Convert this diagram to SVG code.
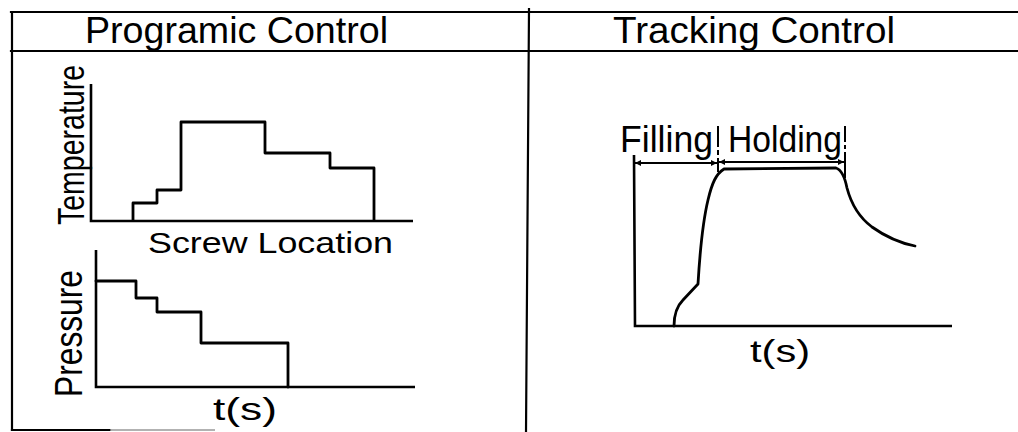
<svg xmlns="http://www.w3.org/2000/svg" width="1018" height="432" viewBox="0 0 1018 432">
  <style>
    .frame { fill: none; stroke: #000; stroke-width: 2.2; stroke-linecap: square; }
    .axis { fill: none; stroke: #000; stroke-width: 2.6; stroke-linejoin: miter; }
    .curve { fill: none; stroke: #000; stroke-width: 2.8; stroke-linejoin: round; stroke-linecap: round; }
    .dim { fill: none; stroke: #000; stroke-width: 2; }
    .tick { fill: none; stroke: #000; stroke-width: 2; }
    .lbl { font-family: "Liberation Sans", Arial, sans-serif; fill: #000; }
  </style>
  <defs>
    <marker id="arr" viewBox="0 0 10 10" refX="10" refY="5" markerWidth="8" markerHeight="6" markerUnits="userSpaceOnUse" orient="auto-start-reverse">
      <path d="M0,0 L10,5 L0,10 z" fill="#000"/>
    </marker>
  </defs>
  <rect width="1018" height="432" fill="#fff"/>

  <!-- table frame -->
  <g id="frame">
    <line class="frame" x1="11" y1="12" x2="1018" y2="12"/>
    <line class="frame" x1="11" y1="51" x2="1018" y2="51"/>
    <line class="frame" x1="12" y1="12" x2="12" y2="430"/>
    <line class="frame" x1="529" y1="9" x2="526" y2="432"/>
    <line class="frame" x1="12" y1="430" x2="110" y2="430"/>
    <line x1="110" y1="430" x2="215" y2="430" stroke="#999" stroke-width="1.6"/>
  </g>

  <!-- column headings -->
  <g id="headings">
    <text class="lbl" x="85" y="43" font-size="36" textLength="303" lengthAdjust="spacingAndGlyphs">Programic Control</text>
    <text class="lbl" x="613" y="43" font-size="36" textLength="282" lengthAdjust="spacingAndGlyphs">Tracking Control</text>
  </g>

  <!-- temperature profile along the screw -->
  <g id="temperature-chart">
    <path class="axis" d="M91,84 V221 H413"/>
    <path class="curve" d="M133,220.5 V203 H157 V190 H181 V122 H265 V153 H330 V168 H374 V220.5"/>
    <text class="lbl" transform="translate(84,225) rotate(-90)" font-size="36" textLength="160" lengthAdjust="spacingAndGlyphs">Temperature</text>
    <text class="lbl" x="148" y="253" font-size="30" textLength="245" lengthAdjust="spacingAndGlyphs">Screw Location</text>
  </g>

  <!-- pressure program over time -->
  <g id="pressure-chart">
    <path class="axis" d="M96,250 V387 H415"/>
    <path class="curve" d="M96,281 H136 V298 H157 V312 H201 V343 H288 V387"/>
    <text class="lbl" transform="translate(82,397) rotate(-90)" font-size="38" textLength="127" lengthAdjust="spacingAndGlyphs">Pressure</text>
    <text class="lbl" x="213" y="420" font-size="32" textLength="64" lengthAdjust="spacingAndGlyphs">t(s)</text>
  </g>

  <!-- tracked cavity pressure -->
  <g id="tracking-chart">
    <path class="axis" d="M634,155 L635,326 H952"/>
    <path class="curve" d="M674,326 C674,316 677,306 683,300 L698,284 C700,250 702,225 708,200 C712,183 716,174 724,169 L836,168 C842,170 845,178 847,188 C852,207 860,218 872,227 C886,237 900,243 915,246"/>
    <text class="lbl" x="620" y="152" font-size="36" textLength="93" lengthAdjust="spacingAndGlyphs">Filling</text>
    <text class="lbl" x="728" y="152" font-size="36" textLength="114" lengthAdjust="spacingAndGlyphs">Holding</text>
    <text class="lbl" x="750" y="362" font-size="32" textLength="60" lengthAdjust="spacingAndGlyphs">t(s)</text>
  </g>

  <!-- phase boundaries and dimension arrows -->
  <g id="connectors">
    <path class="tick" d="M718,126 V147 M718,150 V155 M718,158 V172"/>
    <path class="tick" d="M845,126 V142 M845,145 V149 M845,152 V178"/>
    <line class="dim" x1="635" y1="163" x2="717" y2="163" marker-start="url(#arr)" marker-end="url(#arr)"/>
    <line class="dim" x1="719" y1="162" x2="844" y2="162" marker-start="url(#arr)" marker-end="url(#arr)"/>
  </g>
</svg>
